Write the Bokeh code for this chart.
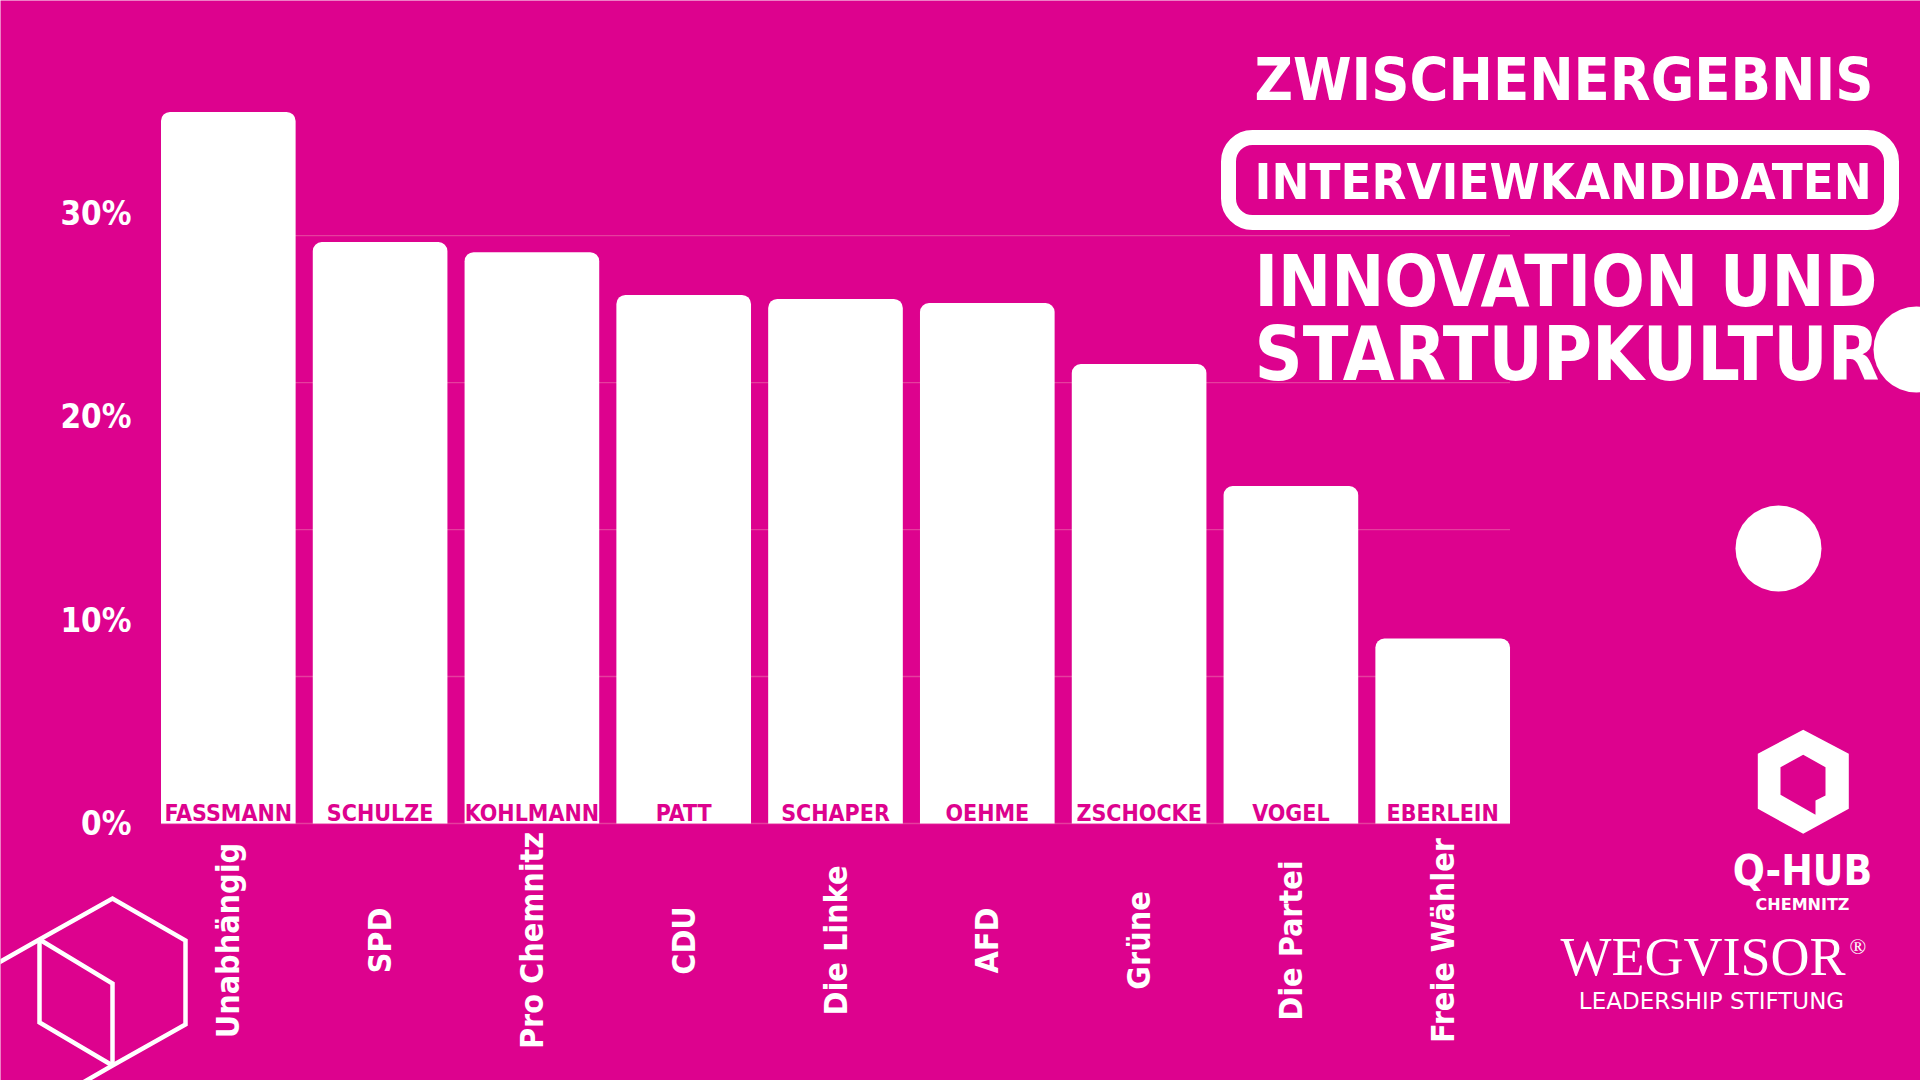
import math
from bokeh.plotting import figure
from bokeh.models import Range1d, LinearAxis, FixedTicker, ColumnDataSource
from bokeh.core.properties import value
from bokeh.embed import file_html
from bokeh.resources import INLINE

# ---------------- data ----------------
parties = ["Unabhängig", "SPD", "Pro Chemnitz", "CDU", "Die Linke", "AFD",
           "Grüne", "Die Partei", "Freie Wähler"]
candidates = ["FASSMANN", "SCHULZE", "KOHLMANN", "PATT", "SCHAPER", "OEHME",
              "ZSCHOCKE", "VOGEL", "EBERLEIN"]
shares = [35.0, 28.6, 28.1, 26.0, 25.8, 25.6, 22.6, 16.6, 9.1]
tick_values = [0, 10, 20, 30]
tick_labels = ["0%", "10%", "20%", "30%"]
title_lines = ["ZWISCHENERGEBNIS", "INTERVIEWKANDIDATEN", "INNOVATION UND", "STARTUPKULTUR"]
logo_texts = ["Q-HUB", "CHEMNITZ", "WEGVISOR", "®", "LEADERSHIP STIFTUNG"]

# ---------------- style ----------------
BG = "#dd028e"
GRID = "#e53e9e"
FONT = "DejaVu Sans Condensed"
W, H = 1920, 1080
OX, OY = 0, 0
X0, PITCH = 227.8, 151.8      # pixel centre of first bar, bar pitch
Y0, PPU = 823.0, 20.33        # baseline pixel, pixels per percent
BAR_W = 0.887
grid_levels = [0, 7.23, 14.46, 21.69, 28.92]


def xd(px):
    return (px - X0) / PITCH


def yd(py):
    return (Y0 - py) / PPU


p = figure(width=W, height=H,
           x_range=Range1d(xd(OX), xd(OX + W)),
           y_range=Range1d(yd(OY + H), yd(OY)),
           output_backend="svg", toolbar_location=None,
           x_axis_location=None, y_axis_location=None,
           min_border=0, background_fill_color=BG, border_fill_color=BG,
           outline_line_color=None)
p.grid.visible = False

# grid lines across the bar area
left_edge = -BAR_W / 2
right_edge = len(candidates) - 1 + BAR_W / 2
p.segment(x0=[left_edge] * len(grid_levels), x1=[right_edge] * len(grid_levels),
          y0=grid_levels, y1=grid_levels, line_color=GRID, line_width=1.3)

# y axis (fixed inside the canvas)
yaxis = LinearAxis(fixed_location=xd(131),
                   ticker=FixedTicker(ticks=tick_values),
                   major_label_overrides={v: l for v, l in zip(tick_values, tick_labels)},
                   axis_line_color=None, major_tick_line_color=None,
                   minor_tick_line_color=None, major_tick_out=0, major_tick_in=0,
                   major_label_standoff=0,
                   major_label_text_color="white",
                   major_label_text_font=FONT,
                   major_label_text_font_size="33px",
                   major_label_text_font_style="bold")
p.add_layout(yaxis, "left")

src = ColumnDataSource(dict(x=list(range(len(candidates))), share=shares,
                            cand=candidates, party=parties))

p.vbar(x="x", top="share", bottom=0, width=BAR_W, source=src,
       fill_color="white", line_color=None, border_radius=(9, 9, 0, 0))

# candidate names inside the bars (cap centre ~11px above baseline)
p.text(x="x", y=yd(812), text="cand", source=src, text_align="center",
       text_baseline="middle", text_color=BG, text_font=value(FONT),
       text_font_size="23px", text_font_style="bold")

p.text(x="x", y=yd(940), text="party", source=src, angle=math.pi / 2,
       text_align="center", text_baseline="middle", text_color="white",
       text_font=value(FONT), text_font_size="32px", text_font_style="bold")

# ---------------- title block ----------------
p.quad(left=[xd(1228)], right=[xd(1891)], top=[yd(137)], bottom=[yd(222)],
       fill_color=None, line_color="white", line_width=15, border_radius=24)

title_specs = [(79, "59px"), (181, "50.5px"), (281, "70.5px"), (354, "74.5px")]
for line, (mid, size) in zip(title_lines, title_specs):
    p.text(x=[xd(1254)], y=[yd(mid)], text=[line], text_align="left",
           text_baseline="middle", text_color="white", text_font=value(FONT),
           text_font_size=size, text_font_style="bold")

# decorative circles
p.scatter(x=[xd(1916), xd(1778)], y=[yd(349), yd(548)], size=86,
          marker="circle", fill_color="white", line_color=None)

# ---------------- Q-HUB logo ----------------
outer = [(1802.7, 729.3), (1848.3, 753.3), (1848.3, 808.3), (1802.7, 833.3),
         (1757.3, 808.3), (1757.3, 753.3)]
hole = [(1802.7, 754.3), (1825, 766.7), (1825, 795), (1815, 800), (1815, 814.3),
        (1780, 794.3), (1780, 766.7)]
p.multi_polygons(xs=[[[[xd(a) for a, b in outer], [xd(a) for a, b in hole]]]],
                 ys=[[[[yd(b) for a, b in outer], [yd(b) for a, b in hole]]]],
                 fill_color="white", line_color=None)

p.text(x=[xd(1802)], y=[yd(870)], text=[logo_texts[0]], text_align="center",
       text_baseline="middle", text_color="white", text_font=value(FONT),
       text_font_size="42px", text_font_style="bold")
p.text(x=[xd(1802)], y=[yd(904)], text=[logo_texts[1]], text_align="center",
       text_baseline="middle", text_color="white", text_font=value("DejaVu Sans"),
       text_font_size="16px", text_font_style="bold")
p.text(x=[xd(1560)], y=[yd(956)], text=[logo_texts[2]], text_align="left",
       text_baseline="middle", text_color="white", text_font=value("Liberation Serif"),
       text_font_size="54px")
p.text(x=[xd(1849)], y=[yd(946)], text=[logo_texts[3]], text_align="left",
       text_baseline="middle", text_color="white", text_font=value("Liberation Serif"),
       text_font_size="22px")
p.text(x=[xd(1711)], y=[yd(1000)], text=[logo_texts[4]], text_align="center",
       text_baseline="middle", text_color="white", text_font=value("DejaVu Sans"),
       text_font_size="23px")

# ---------------- cube outline bottom-left ----------------
cube_lines = [
    [(-5, 964), (39, 939), (112, 898), (185, 940), (185, 1024), (112, 1065), (60, 1095)],
    [(39, 939), (39, 1022), (112, 1065)],
    [(39, 939), (112, 983), (112, 1065)],
]
p.multi_line(xs=[[xd(a) for a, b in ln] for ln in cube_lines],
             ys=[[yd(b) for a, b in ln] for ln in cube_lines],
             line_color="white", line_width=4.5, line_join="miter")

open("out.html", "w").write(file_html(p, INLINE))
